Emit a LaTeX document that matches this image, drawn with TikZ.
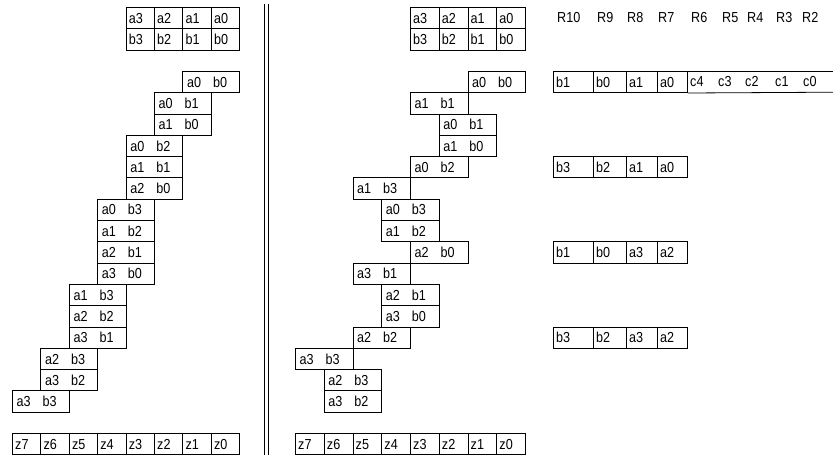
\documentclass[tikz,border=0pt]{standalone}
\usepackage{fontspec}
\setmainfont[FakeStretch=0.87]{Liberation Sans}
\begin{document}
\begin{tikzpicture}[x=1pt,y=-1pt,
  every node/.style={font=\fontsize{14.5}{16}\selectfont, text height=10.4pt, text depth=0pt},
  boxst/.style={draw, line width=0.8pt, inner sep=0pt, anchor=north west, minimum height=21.3pt},
  txt/.style={anchor=west, inner sep=0pt},
  lbl/.style={anchor=west, inner sep=0pt}]
\useasboundingbox (0,0) rectangle (833,455);
\def\RH{21.3}
% pair box: name, x-origin, cell width, col, row, a, b
\newcommand{\pairbx}[7]{%
  \node[boxst, minimum width=2*#3 pt] (#1) at ({#2+#4*#3},{7+#5*\RH}) {};
  \node[txt] (#1-a) at ([xshift=4.5pt]#1.west) {#6};
  \node[txt] (#1-b) at ([xshift=30.5pt]#1.west) {#7};}
% single cell: name, x-origin, cell width, col, row, text
\newcommand{\onecell}[6]{%
  \node[boxst, minimum width=#3 pt] (#1) at ({#2+#4*#3},{7+#5*\RH}) {};
  \node[txt] (#1-t) at ([xshift=3pt]#1.west) {#6};}

% ---------------- left half ----------------
\def\XL{12}\def\WL{28.4}
\foreach \t [count=\i from 4] in {a3,a2,a1,a0} {\onecell{lt\t}{\XL}{\WL}{\i}{0}{\t}}
\foreach \t [count=\i from 4] in {b3,b2,b1,b0} {\onecell{lt\t}{\XL}{\WL}{\i}{1}{\t}}
\foreach \col/\row/\a/\b in {6/3/a0/b0, 5/4/a0/b1, 5/5/a1/b0, 4/6/a0/b2, 4/7/a1/b1, 4/8/a2/b0,
   3/9/a0/b3, 3/10/a1/b2, 3/11/a2/b1, 3/12/a3/b0, 2/13/a1/b3, 2/14/a2/b2, 2/15/a3/b1,
   1/16/a2/b3, 1/17/a3/b2, 0/18/a3/b3}
  {\pairbx{lp\row}{\XL}{\WL}{\col}{\row}{\a}{\b}}
\foreach \t [count=\i from 0] in {z7,z6,z5,z4,z3,z2,z1,z0} {\onecell{lz\t}{\XL}{\WL}{\i}{20}{\t}}

% ---------------- double separator ----------------
\coordinate (s1t) at (264.6,4); \coordinate (s1b) at (264.6,455);
\coordinate (s2t) at (268.4,4); \coordinate (s2b) at (268.4,455);
\draw[line width=1.2pt] (s1t) -- (s1b);
\draw[line width=1.2pt] (s2t) -- (s2b);

% ---------------- right half ----------------
\def\XR{295}\def\WR{28.75}
\foreach \t [count=\i from 4] in {a3,a2,a1,a0} {\onecell{rt\t}{\XR}{\WR}{\i}{0}{\t}}
\foreach \t [count=\i from 4] in {b3,b2,b1,b0} {\onecell{rt\t}{\XR}{\WR}{\i}{1}{\t}}
\foreach \col/\row/\a/\b in {6/3/a0/b0, 4/4/a1/b1, 5/5/a0/b1, 5/6/a1/b0, 4/7/a0/b2, 2/8/a1/b3,
   3/9/a0/b3, 3/10/a1/b2, 4/11/a2/b0, 2/12/a3/b1, 3/13/a2/b1, 3/14/a3/b0, 2/15/a2/b2,
   0/16/a3/b3, 1/17/a2/b3, 1/18/a3/b2}
  {\pairbx{rp\row}{\XR}{\WR}{\col}{\row}{\a}{\b}}
\foreach \t [count=\i from 0] in {z7,z6,z5,z4,z3,z2,z1,z0} {\onecell{rz\t}{\XR}{\WR}{\i}{20}{\t}}

% ---------------- register labels ----------------
\foreach \t/\x in {R10/557,R9/597,R8/627,R7/658,R6/691,R5/722,R4/747,R3/776,R2/802}
  {\node[lbl] (lab\t) at (\x,17.7) {\t};}

% ---------------- register rows ----------------
\newcommand{\regrow}[6]{% name, row, t1..t4
  \node[boxst, minimum width=40pt] (#1-1) at (553,{7+#2*\RH}) {};
  \node[boxst, minimum width=33pt] (#1-2) at (593,{7+#2*\RH}) {};
  \node[boxst, minimum width=31pt] (#1-3) at (626,{7+#2*\RH}) {};
  \node[boxst, minimum width=30pt] (#1-4) at (657,{7+#2*\RH}) {};
  \node[txt] (#1-t1) at ([xshift=3pt]#1-1.west) {#3};
  \node[txt] (#1-t2) at ([xshift=3pt]#1-2.west) {#4};
  \node[txt] (#1-t3) at ([xshift=3pt]#1-3.west) {#5};
  \node[txt] (#1-t4) at ([xshift=3pt]#1-4.west) {#6};}
\regrow{ra}{3}{b1}{b0}{a1}{a0}
\regrow{rb}{7}{b3}{b2}{a1}{a0}
\regrow{rc}{11}{b1}{b0}{a3}{a2}
\regrow{rd}{15}{b3}{b2}{a3}{a2}
% open-ended c box
\coordinate (cte) at (833,{7+3*\RH});
\coordinate (cbe) at (833,{7+4*\RH});
\draw[line width=0.8pt] (ra-4.north east) -- (cte);
\draw[line width=0.8pt] (ra-4.south east) -- (cbe);
\foreach \t/\x in {c4/690,c3/718,c2/745,c1/775,c0/803}
  {\node[lbl] (reg\t) at (\x,{7+3.5*\RH}) {\t};}
\end{tikzpicture}
\end{document}
